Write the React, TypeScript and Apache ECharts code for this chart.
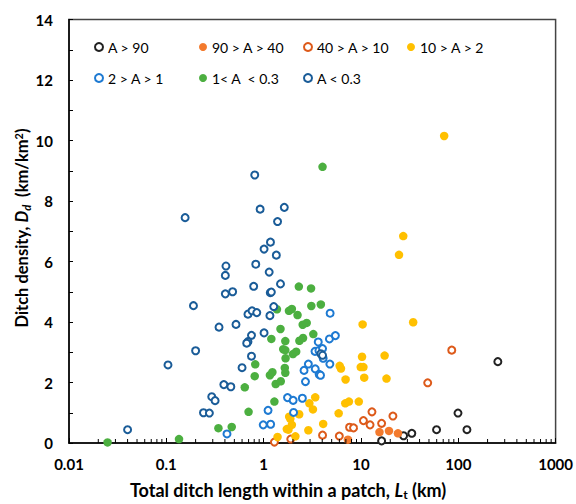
import React, { useEffect, useRef } from "react";
import * as echarts from "echarts";

const FONT = "Lato, 'Liberation Sans', sans-serif";

const CATEGORIES = ["A > 90", "90 > A > 40", "40 > A > 10", "10 > A > 2", "2 > A > 1", "1< A  < 0.3", "A < 0.3"];

const A_GT_90 = [[16.3, 0.07], [27.4, 0.24], [33.3, 0.32], [59.8, 0.44], [122.7, 0.44], [99.3, 0.99], [255, 2.69]];
const A_90_40 = [[7.35, 0.11], [15.5, 0.36], [19.4, 0.4], [24, 0.32]];
const A_40_10 = [[1.29, 0.03], [1.9, 0.13], [4.03, 0.26], [5.99, 0.23], [7.64, 0.52], [8.39, 0.5], [10.6, 0.74], [12.4, 0.6], [12.97, 1.03], [16.3, 0.65], [21.3, 0.89], [48.5, 1.99], [85.7, 3.07]];
const A_10_2 = [[1.39, 0.2], [1.73, 0.46], [1.8, 0.44], [1.95, 0.6], [1.83, 0.87], [1.88, 0.8], [2.12, 0.22], [2.32, 0.95], [3.39, 1.51], [2.95, 1.31], [3.21, 1.11], [2.88, 0.42], [4.09, 0.63], [5.9, 0.98], [6.9, 1.31], [7.52, 1.37], [9.5, 1.37], [6.04, 2.55], [6.23, 2.46], [6.95, 2.1], [9.95, 2.51], [10.6, 2.51], [10.8, 2.16], [10.26, 2.85], [10.4, 3.92], [17.5, 2.89], [18.3, 2.13], [34.4, 3.99], [71.6, 10.15], [27.2, 6.84], [24.6, 6.22]];
const A_2_1 = [[0.42, 0.3], [0.99, 0.6], [1.18, 0.62], [1.11, 1.08], [1.76, 1.5], [2.01, 1.41], [2.03, 1.01], [2.5, 1.48], [2.69, 2.03], [2.6, 2.4], [2.88, 2.61], [3.39, 2.45], [3.72, 2.27], [3.84, 2.24], [4.79, 2.61], [3.37, 3.03], [3.7, 3.06], [4.03, 3.12], [4.09, 2.8], [3.64, 3.34], [4.74, 3.44], [5.46, 3.55], [4.82, 4.29]];
const A_1_03 = [[0.0249, 0.02], [0.135, 0.13], [0.343, 0.49], [0.47, 0.53], [0.7, 1.03], [1.29, 1.37], [0.64, 1.84], [0.81, 2.21], [0.82, 2.6], [1.16, 2.24], [1.23, 2.34], [1.33, 1.95], [1.5, 2.04], [1.65, 2.48], [1.67, 2.32], [1.68, 2.8], [2.0, 2.94], [2.16, 3.02], [1.59, 3.1], [1.67, 3.07], [1.2, 3.44], [1.67, 3.37], [2.33, 3.38], [2.54, 3.47], [1.49, 3.77], [3.24, 3.6], [2.52, 3.91], [2.77, 3.97], [2.23, 4.23], [1.37, 4.42], [1.82, 4.37], [1.95, 4.43], [3.09, 4.53], [3.87, 4.58], [2.3, 5.17], [3.07, 5.11], [4.03, 9.13]];
const A_LT_03 = [[0.81, 8.86], [0.156, 7.45], [0.92, 7.73], [1.63, 7.79], [1.39, 7.32], [1.175, 6.64], [1.01, 6.41], [1.35, 6.21], [0.41, 5.85], [0.404, 5.54], [0.83, 5.91], [1.14, 5.65], [0.79, 5.18], [1.49, 5.26], [0.404, 4.93], [0.48, 5.0], [1.17, 4.97], [1.2, 4.99], [0.19, 4.54], [0.348, 3.83], [0.52, 3.92], [0.69, 4.26], [0.76, 4.37], [0.85, 4.31], [1.16, 4.21], [1.27, 4.51], [1.01, 3.64], [0.75, 3.56], [0.69, 3.35], [0.67, 3.3], [0.2, 3.05], [0.104, 2.58], [0.6, 2.49], [0.75, 2.87], [0.39, 1.93], [0.46, 1.86], [0.293, 1.53], [0.317, 1.4], [0.241, 1.0], [0.277, 0.99], [0.04, 0.44], [3.87, 2.95], [4.03, 2.9]];

const SERIES_DATA = [A_GT_90, A_90_40, A_40_10, A_10_2, A_2_1, A_1_03, A_LT_03];
const COLORS = ["#222222", "#F37A2D", "#DD5A1A", "#FFC000", "#1E7AD2", "#4CAF40", "#1A5C98"];
const HOLLOW = [true, false, true, false, true, false, true];

const X_MIN = 0.01;
const X_MAX = 1000;
const Y_MIN = 0;
const Y_MAX = 14;
const Y_INTERVAL = 2;
const DECADES = [0.01, 0.1, 1, 10, 100];
const MINOR_MULT = [2, 3, 4, 5, 6, 7, 8, 9];

const LEGEND_POS = [[94, 40], [199, 40], [303, 40], [407, 40], [94, 71], [199, 71], [303, 71]];

export default function App() {
  const ref = useRef<HTMLDivElement>(null);
  useEffect(() => {
    if (!ref.current) return;
    const chart = echarts.init(ref.current, null, { renderer: "svg" });
    const minorX: number[][] = [];
    DECADES.forEach((d) => MINOR_MULT.forEach((m) => minorX.push([+(d * m).toPrecision(3), 0])));

    const series: any[] = CATEGORIES.map((name, i) => ({
      name,
      type: "scatter",
      data: SERIES_DATA[i],
      symbol: "circle",
      symbolSize: HOLLOW[i] ? 7 : 8.5,
      itemStyle: HOLLOW[i]
        ? { color: "#ffffff", borderColor: COLORS[i], borderWidth: 2, opacity: 1 }
        : { color: COLORS[i], opacity: 1 },
      z: 3,
    }));
    series.push({
      type: "custom",
      name: "minorTicks",
      data: minorX,
      silent: true,
      z: 5,
      renderItem: (params: any, api: any) => {
        const p = api.coord([api.value(0), 0]);
        return {
          type: "line",
          shape: { x1: p[0], y1: p[1], x2: p[0], y2: p[1] - 4 },
          style: { stroke: "#000", lineWidth: 1 },
        };
      },
    });

    const legends = CATEGORIES.map((name, i) => ({
      data: [name],
      left: LEGEND_POS[i][0],
      top: LEGEND_POS[i][1],
      padding: 0,
      itemWidth: 8,
      itemHeight: 8,
      selectedMode: false,
      textStyle: { fontSize: 14, fontFamily: FONT, color: "#000" },
    }));

    chart.setOption({
      animation: false,
      backgroundColor: "#ffffff",
      grid: { left: 69, top: 19.5, right: 15, bottom: 61, show: true, borderColor: "#444", borderWidth: 1.5, containLabel: false },
      legend: legends,
      xAxis: {
        type: "log",
        logBase: 10,
        min: X_MIN,
        max: X_MAX,
        axisLine: { show: true, lineStyle: { color: "#000", width: 1.5 } },
        axisTick: { show: true, inside: true, length: 5, lineStyle: { color: "#000" } },
        splitLine: { show: false },
        axisLabel: {
          margin: 13,
          fontSize: 15,
          fontWeight: "bold",
          fontFamily: FONT,
          color: "#000",
          formatter: (v: number) => String(+Number(v).toPrecision(3)),
        },
      },
      yAxis: {
        type: "value",
        min: Y_MIN,
        max: Y_MAX,
        interval: Y_INTERVAL,
        axisLine: { show: true, lineStyle: { color: "#000", width: 1.5 } },
        axisTick: { show: true, inside: true, length: 4, lineStyle: { color: "#000" } },
        minorTick: { show: true, splitNumber: 2, length: 4, lineStyle: { color: "#000" } },
        splitLine: { show: false },
        axisLabel: { margin: 16, fontSize: 15, fontWeight: "bold", fontFamily: FONT, color: "#000" },
      },
      graphic: [
        {
          type: "text",
          x: 288,
          y: 490,
          style: {
            text: "{b|Total ditch length within a patch, }{i|L}{s|t}{b| (km)}",
            align: "center",
            verticalAlign: "middle",
            rich: {
              b: { fontSize: 18, fontWeight: "bold", fontFamily: FONT, fill: "#000" },
              i: { fontSize: 18, fontWeight: "bold", fontStyle: "italic", fontFamily: FONT, fill: "#000" },
              s: { fontSize: 12, fontWeight: "bold", fontFamily: FONT, fill: "#000", padding: [9, 0, 0, 0] },
            },
          },
        },
        {
          type: "text",
          x: 22,
          y: 228,
          rotation: Math.PI / 2,
          style: {
            text: "{b|Ditch density, }{i|D}{si|d}{b|  (km/km}{p|2}{b|)}",
            align: "center",
            verticalAlign: "middle",
            rich: {
              b: { fontSize: 16.5, fontWeight: "bold", fontFamily: FONT, fill: "#000" },
              i: { fontSize: 16.5, fontWeight: "bold", fontStyle: "italic", fontFamily: FONT, fill: "#000" },
              si: { fontSize: 11, fontWeight: "bold", fontStyle: "italic", fontFamily: FONT, fill: "#000", padding: [8, 0, 0, 0] },
              p: { fontSize: 11, fontWeight: "bold", fontFamily: FONT, fill: "#000", padding: [0, 0, 8, 0] },
            },
          },
        },
      ],
      series,
    });
    return () => chart.dispose();
  }, []);
  return <div ref={ref} style={{ position: "fixed", left: 0, top: 0, width: 576, height: 504 }} />;
}
